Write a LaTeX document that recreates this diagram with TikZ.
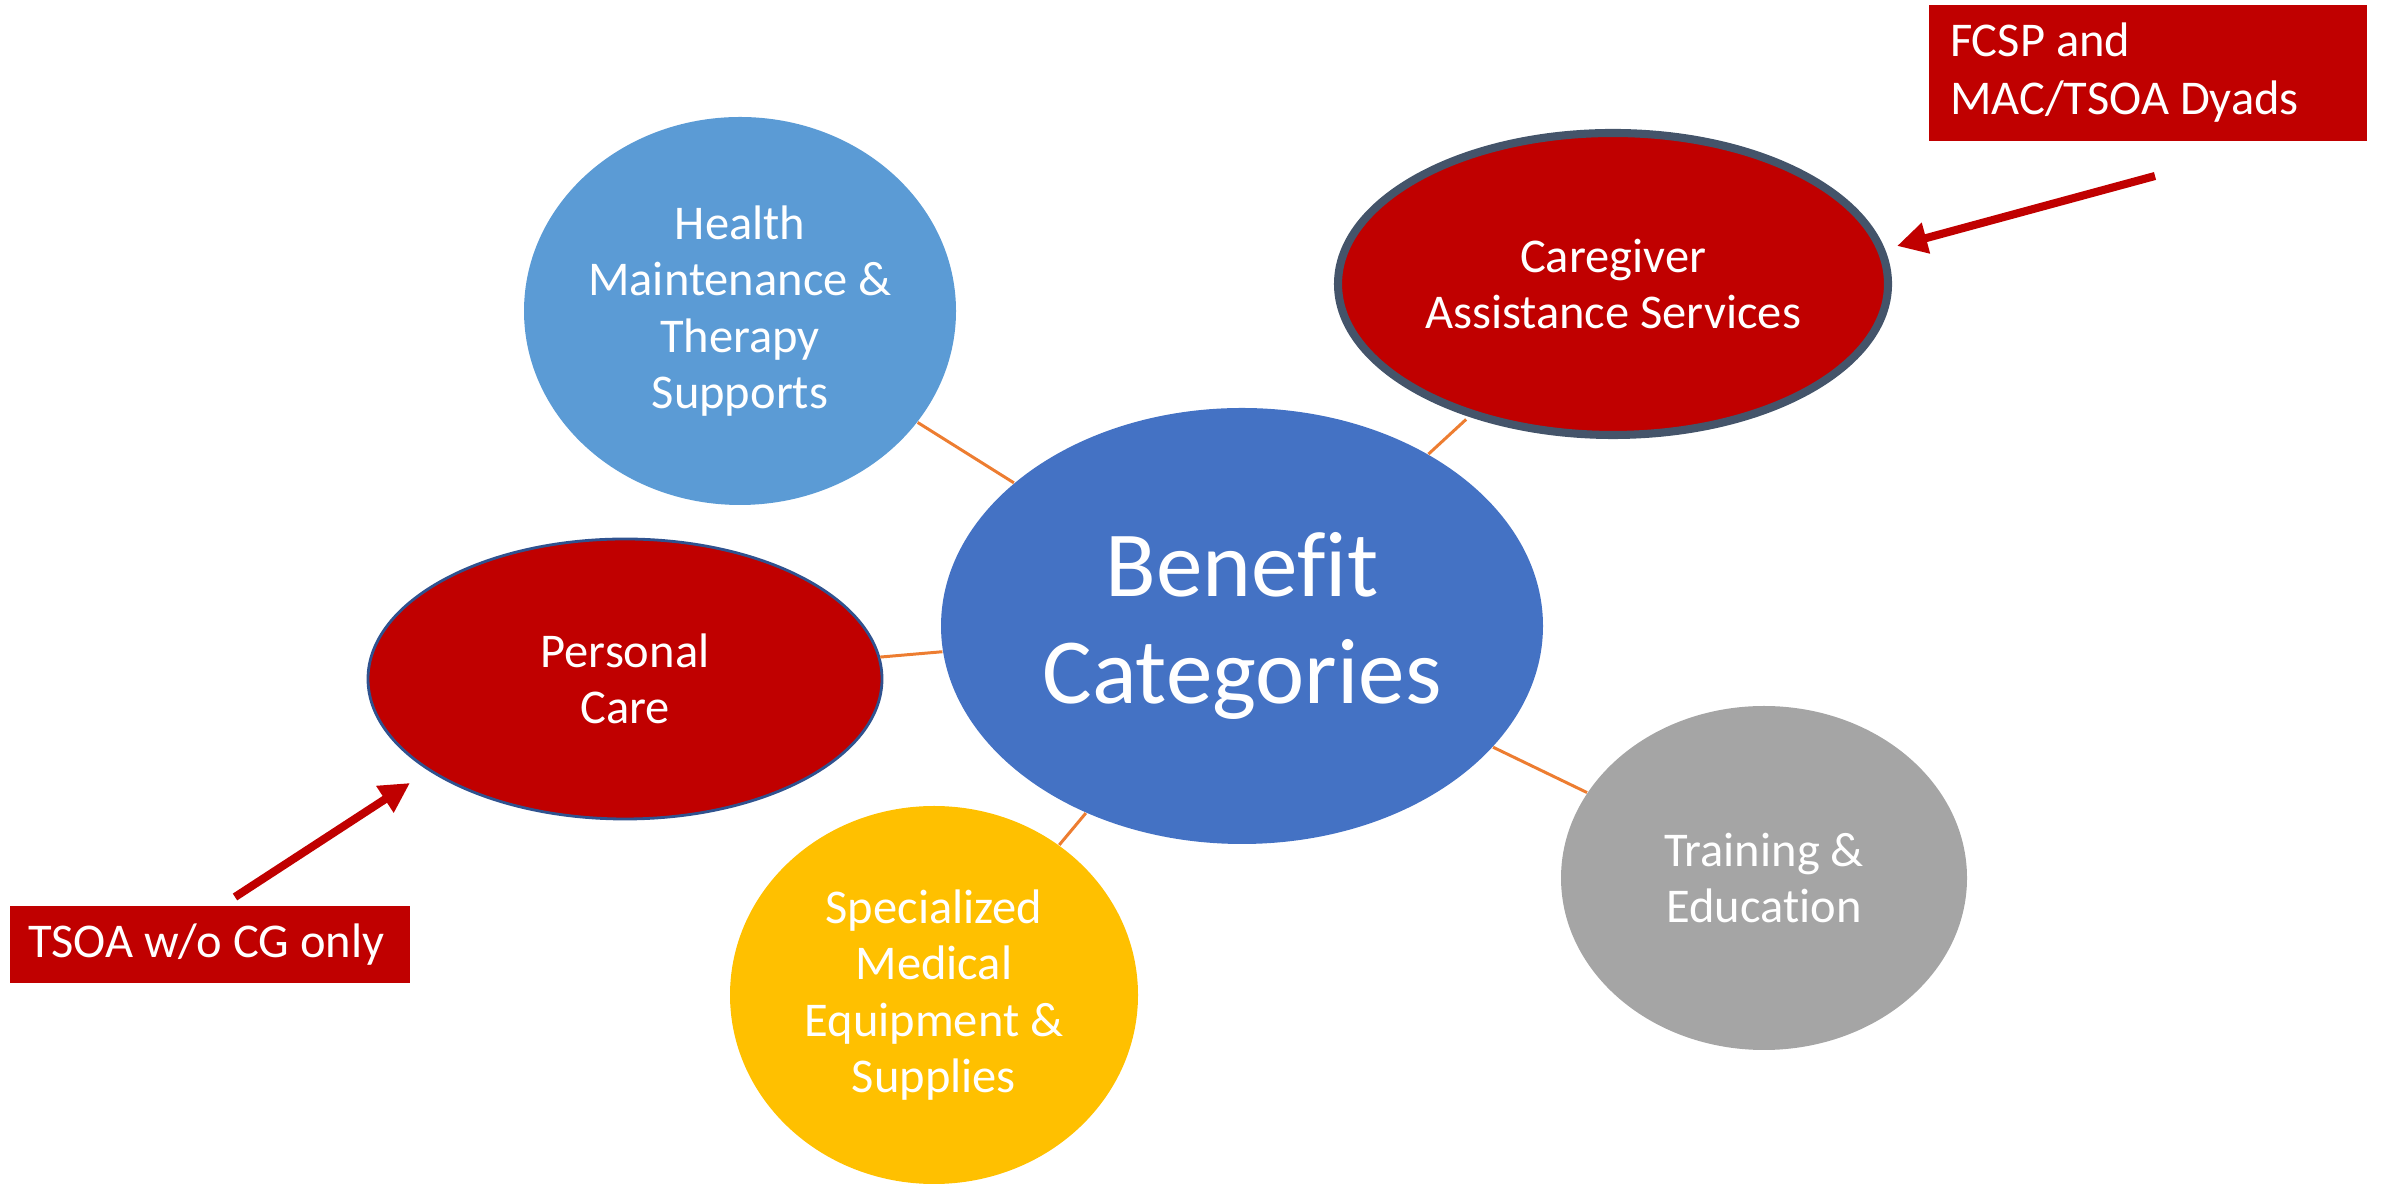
\documentclass[tikz,border=0pt]{standalone}
\usepackage{fontspec}
\setmainfont{Carlito}[Ligatures=NoCommon]
\usetikzlibrary{math, calc, shapes.geometric, arrows.meta}

\definecolor{cgred}{HTML}{C00000}
\definecolor{hmblue}{HTML}{5B9BD5}
\definecolor{bcblue}{HTML}{4472C4}
\definecolor{smyellow}{HTML}{FFC000}
\definecolor{tegray}{HTML}{A5A5A5}
\definecolor{linkorange}{HTML}{ED7D31}
\definecolor{slate}{HTML}{44546A}
\definecolor{pcborder}{HTML}{2F528F}

\tikzset{
    bubble/.style={ellipse, inner sep=0pt, text=white, align=center,
        font=\fontsize{13.8}{16}\selectfont},
    notebox/.style={rectangle, fill=cgred, text=white, align=flush left, inner sep=0pt,
        font=\fontsize{13.8}{16.5}\selectfont},
    link/.style={draw=linkorange, line width=0.85pt},
    pointer/.style={draw=cgred, line width=2.3pt, -{Triangle[length=0.3cm, width=0.3cm]}},
}

\begin{document}
\begin{tikzpicture}
    \tikzmath{
        \figweight=23.82;
        \figheight=11.84;
    }
    \useasboundingbox (0, 0) rectangle (\figweight, \figheight);

    % center
    \node [bubble, fill=bcblue, minimum width=6.02cm, minimum height=4.36cm,
        font=\fontsize{26.5}{30.5}\selectfont] (benefit) at (12.42, 5.58) {Benefit\\Categories};

    % categories
    \node [bubble, fill=hmblue, minimum width=4.32cm, minimum height=3.88cm] (health) at (7.40, 8.73)
    {Health\\Maintenance \&\\Therapy\\Supports};
    \node [bubble, fill=cgred, draw=slate, line width=2.3pt, minimum width=5.50cm, minimum height=3.02cm] (caregiver) at (16.13, 9.00)
    {Caregiver\\Assistance Services};
    \node [bubble, fill=cgred, draw=pcborder, line width=0.8pt, minimum width=5.14cm, minimum height=2.80cm] (personal) at (6.25, 5.05)
    {Personal\\Care};
    \node [bubble, fill=smyellow, minimum width=4.08cm, minimum height=3.78cm] (medical) at (9.34, 1.89)
    {Specialized\\Medical\\Equipment \&\\Supplies};
    \node [bubble, fill=tegray, minimum width=4.06cm, minimum height=3.44cm] (training) at (17.64, 3.06)
    {Training \&\\Education};

    % links
    \draw [link] (benefit) -- (health);
    \draw [link, shorten >=1.1pt] (benefit) -- (caregiver);
    \draw [link] (benefit) -- (personal);
    \draw [link] (benefit) -- (medical);
    \draw [link] (benefit) -- (training);

    % notes
    \node [notebox, minimum width=4.38cm, minimum height=1.36cm, text width=3.96cm] (fcsp) at (21.48, 11.11)
    {FCSP and\\MAC/TSOA Dyads};
    \node [notebox, minimum width=4.00cm, minimum height=0.77cm, text width=3.64cm] (tsoa) at (2.10, 2.395)
    {TSOA w/o CG only};

    % pointers
    \coordinate (fcsptail) at (21.55, 10.08);
    \coordinate (fcsptip) at (18.97, 9.38);
    \draw [pointer] (fcsptail) -- (fcsptip);
    \coordinate (tsoatail) at (2.35, 2.87);
    \coordinate (tsoatip) at (4.10, 4.01);
    \draw [pointer] (tsoatail) -- (tsoatip);
\end{tikzpicture}
\end{document}
